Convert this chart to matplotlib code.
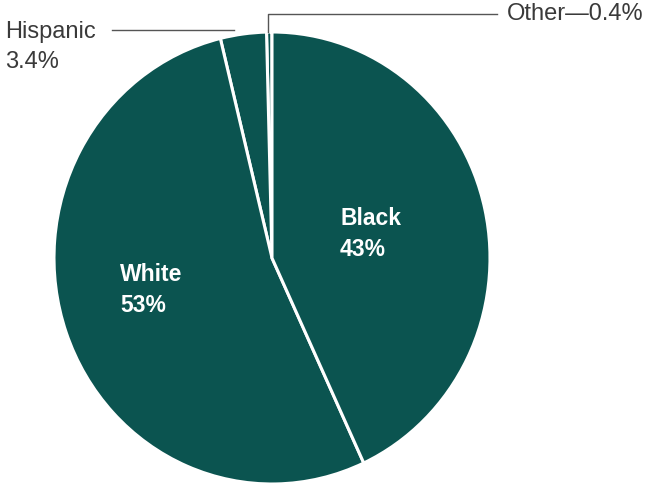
import matplotlib
matplotlib.use("Agg")
import matplotlib.pyplot as plt

labels = ["Other", "Hispanic", "White", "Black"]
values = [0.4, 3.4, 53, 43]
label_text = {"Black": "Black\n43%", "White": "White\n53%"}

W, H = 646, 486
cx, cy = 272, 258       # pie centre in pixels
rx, ry = 218, 226       # radii in pixels (slightly tall ellipse as in scan)

fig = plt.figure(figsize=(W / 100, H / 100), dpi=100)
fig.patch.set_facecolor("white")
ax = fig.add_axes([0, 0, 1, 1])

teal = "#0b5450"
ax.pie(values, startangle=90, counterclock=True, colors=[teal] * 4,
       wedgeprops=dict(edgecolor="white", linewidth=2.2), frame=True)
ax.set_aspect("auto")
ax.set_xlim(-cx / rx, (W - cx) / rx)
ax.set_ylim(-(H - cy) / ry, cy / ry)
ax.axis("off")


def px(x, y):
    return ((x - cx) / rx, (cy - y) / ry)


font = "Liberation Sans"
gray = "#3a3a3a"

# inside labels
ax.text(*px(340, 234), label_text["Black"], color="white", fontsize=16.5,
        fontweight="bold", family=font, ha="left", va="center", linespacing=1.45)
ax.text(*px(120, 290), label_text["White"], color="white", fontsize=16.5,
        fontweight="bold", family=font, ha="left", va="center", linespacing=1.45)

# Hispanic label and leader
ax.text(*px(5, 47), "Hispanic\n3.4%", color=gray, fontsize=17, family=font,
        ha="left", va="center", linespacing=1.5)
ax.plot(*zip(px(112, 30), px(234, 30)), color="#555555", lw=1.0)

# Other label and leader
ax.plot(*zip(px(268, 32), px(268, 14), px(497, 14)), color="#555555", lw=1.0)
ax.text(*px(507, 14), "Other\u20140.4%", color=gray, fontsize=17, family=font,
        ha="left", va="center")

fig.savefig("out.png", dpi=100, facecolor="white")
